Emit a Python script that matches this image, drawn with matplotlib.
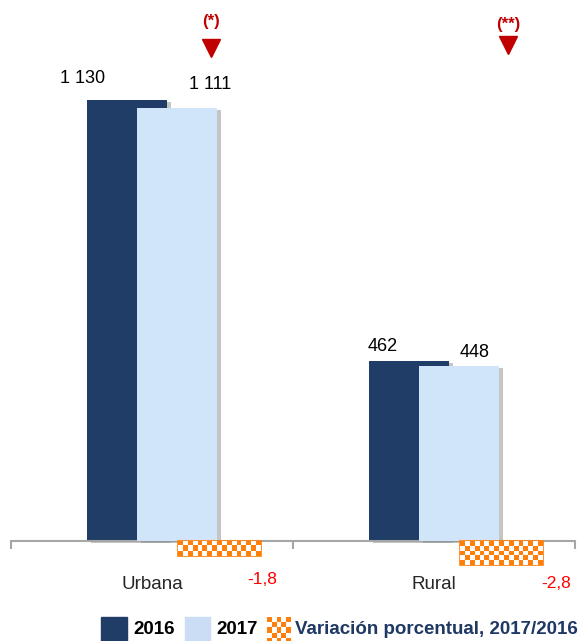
import numpy as np
import matplotlib
matplotlib.use('Agg')
import matplotlib.pyplot as plt
from matplotlib.patches import Rectangle
from matplotlib.colors import ListedColormap
import matplotlib.patheffects as pe

categories = ['Urbana', 'Rural']
values_2016 = [1130, 462]
values_2017 = [1111, 448]
variation = [-1.8, -2.8]
labels_2016 = ['1 130', '462']
labels_2017 = ['1 111', '448']
variation_labels = ['-1,8', '-2,8']
marker_texts = ['(*)', '(**)']
legend_labels = ['2016', '2017', 'Variación porcentual, 2017/2016']

NAVY = '#1F3D66'
LIGHT = '#D0E4FA'
ORANGE = '#FF7F0A'
DARKRED = '#C00000'
RED = '#FF0000'
GRAY = '#A6A6A6'
LEGNAVY = '#1F3864'

NARROW = ['Liberation Sans Narrow', 'Liberation Sans', 'DejaVu Sans']
ARIAL = ['Liberation Sans', 'DejaVu Sans']

W, H = 580, 641
fig = plt.figure(figsize=(W / 100, H / 100), dpi=100)


def fx(px):
    return px / W


def fy(py):
    return 1 - py / H


ax = fig.add_axes([fx(11), fy(580), fx(575) - fx(11), fy(10) - fy(580)])
ax.set_xlim(-0.5, 1.5)
ax.set_ylim(-100, 1361)
ax2 = ax.twinx()
ax2.set_ylim(-39 / 8.5, 531 / 8.5)

x = np.arange(len(categories))
bw = 0.284
off = 0.089
shadow = [pe.SimplePatchShadow(offset=(3, -1.5), shadow_rgbFace='#8C8C8C', alpha=0.5), pe.Normal()]
b1 = ax.bar(x - off, values_2016, bw, color=NAVY, zorder=2)
b2 = ax.bar(x + off, values_2017, bw, color=LIGHT, zorder=3)
for b in list(b1) + list(b2):
    b.set_path_effects(shadow)

# value labels
lab_dx1 = [-0.156, -0.092]
lab_dx2 = [0.117, 0.056]
lab_dy1 = [55, 36]
lab_dy2 = [58, 36]
for i in range(len(categories)):
    ax.text(x[i] - off + lab_dx1[i], values_2016[i] + lab_dy1[i], labels_2016[i], ha='center',
            va='center', fontsize=13, family=NARROW, color='black')
    ax.text(x[i] + off + lab_dx2[i], values_2017[i] + lab_dy2[i], labels_2017[i], ha='center',
            va='center', fontsize=13, family=NARROW, color='black')

# axis line and ticks
for s in ['top', 'right', 'left']:
    ax.spines[s].set_visible(False)
for s in ax2.spines.values():
    s.set_visible(False)
ax.spines['bottom'].set_position(('data', 0))
ax.spines['bottom'].set_color(GRAY)
ax.spines['bottom'].set_linewidth(1.5)
ax.set_xticks([-0.5, 0.5, 1.5])
ax.tick_params(axis='x', direction='out', length=6, width=1.5, color=GRAY, labelbottom=False)
ax.set_yticks([])
ax2.set_yticks([])

cmap = ListedColormap([ORANGE, 'white'])


def checker(axis, patch, cell=5):
    fig.canvas.draw()
    x0, y0 = patch.get_x(), patch.get_y()
    w, h = patch.get_width(), patch.get_height()
    p0 = axis.transData.transform((x0, y0))
    p1 = axis.transData.transform((x0 + w, y0 + h))
    nx = max(1, int(round(abs(p1[0] - p0[0]) / cell)))
    ny = max(1, int(round(abs(p1[1] - p0[1]) / cell)))
    arr = np.add.outer(np.arange(ny), np.arange(nx)) % 2
    im = axis.imshow(arr, extent=(x0, x0 + w, min(y0, y0 + h), max(y0, y0 + h)), cmap=cmap,
                     aspect='auto', interpolation='bilinear', zorder=patch.get_zorder() + 0.1,
                     origin='upper')
    im.set_clip_path(patch)


# variation bars
vw = 0.294
vdx = 0.24
bv = ax2.bar(x + vdx, variation, vw, color='white', edgecolor=ORANGE, linewidth=1.2, zorder=3)
for b in bv:
    checker(ax2, b)
ax.set_xlim(-0.5, 1.5)
ax2.set_xlim(-0.5, 1.5)
ax2.set_ylim(-39 / 8.5, 531 / 8.5)
ax.set_ylim(-100, 1361)

# variation labels (placed in primary coordinates below the axis)
var_dx = [0.39, 0.433]
var_y = [-100, -108]
for i in range(len(categories)):
    ax.text(x[i] + var_dx[i], var_y[i], variation_labels[i], ha='center', va='center',
            fontsize=12.5, family=NARROW, color=RED)

# category labels
for i, c in enumerate(categories):
    ax.text(x[i], -112, c, ha='center', va='center', fontsize=13.5, family=NARROW, color='#262626')

# significance markers
mk_dx = [0.209, 0.262]
mk_y = [1264, 1272]
txt_y = [1331, 1323]
ax.plot(x + np.array(mk_dx), mk_y, 'v', color=DARKRED, ms=12.5, clip_on=False)
for i in range(len(categories)):
    ax.text(x[i] + mk_dx[i], txt_y[i], marker_texts[i], ha='center', va='center', fontsize=12,
            fontweight='bold', color=DARKRED, family=ARIAL)

# legend
LEG_FS = 13.5
fig.patches.append(Rectangle((fx(101), fy(643)), fx(127) - fx(101), fy(617) - fy(643), color=NAVY,
                             transform=fig.transFigure, figure=fig))
fig.text(fx(133), fy(630), legend_labels[0], ha='left', va='center', fontsize=LEG_FS, fontweight='bold',
         family=ARIAL, color='black')
fig.patches.append(Rectangle((fx(185), fy(643)), fx(210) - fx(185), fy(617) - fy(643), color='#CADDF5',
                             transform=fig.transFigure, figure=fig))
fig.text(fx(216), fy(630), legend_labels[1], ha='left', va='center', fontsize=LEG_FS, fontweight='bold',
         family=ARIAL, color='black')
lax = fig.add_axes([fx(267), fy(643), fx(291) - fx(267), fy(617) - fy(643)])
lax.axis('off')
lax.set_xlim(0, 1)
lax.set_ylim(0, 1)
lp = Rectangle((0, 0), 1, 1, facecolor='white', edgecolor=ORANGE, linewidth=1.2)
lax.add_patch(lp)
checker(lax, lp, cell=5)
lax.set_xlim(0, 1)
lax.set_ylim(0, 1)
fig.text(fx(295), fy(630), legend_labels[2], ha='left', va='center', fontsize=LEG_FS, fontweight='bold',
         family=ARIAL, color=LEGNAVY)

fig.savefig('out.png', dpi=100)
